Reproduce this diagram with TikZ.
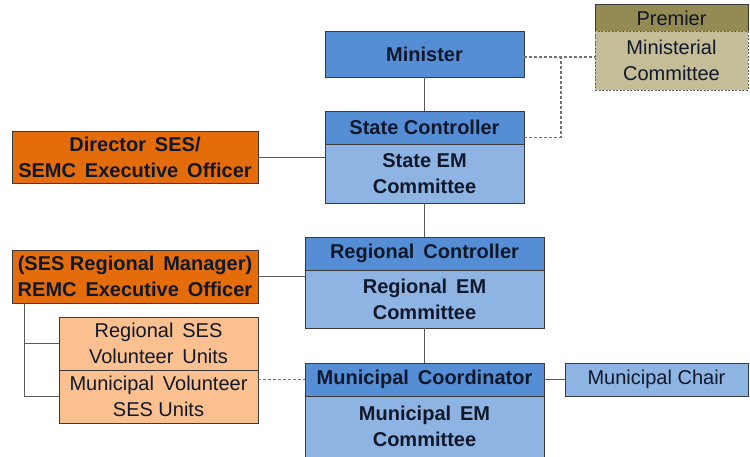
\documentclass[tikz,border=0pt]{standalone}
\usepackage{fontspec}
\setmainfont{Liberation Sans}
\usepackage{xcolor}
\definecolor{midblue}{HTML}{558ED5}
\definecolor{lightblue}{HTML}{8EB4E3}
\definecolor{darkorange}{HTML}{E46C0A}
\definecolor{lightorange}{HTML}{FAC090}
\definecolor{olive}{HTML}{948A54}
\definecolor{sand}{HTML}{C4BD97}
\definecolor{ink}{HTML}{10182A}
\definecolor{edge}{HTML}{3A3A3A}
\definecolor{wire}{HTML}{5A5A5A}

\begin{document}
\begin{tikzpicture}[x=1pt,y=-1pt,
    box/.style={draw=edge,line width=0.8pt,text=ink,inner sep=0pt,align=center,
                font=\fontsize{20}{26}\selectfont},
    boldbox/.style={box,font=\fontsize{20}{26}\selectfont\bfseries},
    head/.style={boldbox,fill=midblue},
    body/.style={boldbox,fill=lightblue},
    officer/.style={boldbox,fill=darkorange},
    unit/.style={box,fill=lightorange},
    link/.style={draw=wire,line width=0.9pt},
    dotlink/.style={draw=wire!85,line width=1.1pt,dash pattern=on 3pt off 2pt}]
        \useasboundingbox (0,0) rectangle (750,456);
        % central column
        \node[head,minimum width=199pt,minimum height=46pt] (min) at (424.5,54) {Minister};
        \node[head,minimum width=199pt,minimum height=33pt] (stctl) at (424.5,127.5) {State Controller};
        \node[body,minimum width=199pt,minimum height=59pt] (stem) at (424.5,173.5) {State EM\\Committee};
        \node[head,minimum width=239pt,minimum height=33pt] (rgctl) at (424.5,253.5) {Regional\, Controller};
        \node[body,minimum width=239pt,minimum height=58pt] (rgem) at (424.5,299) {Regional\, EM\\Committee};
        \node[head,minimum width=239pt,minimum height=33pt] (mcoord) at (424.5,379.5) {Municipal\, Coordinator};
        \node[body,minimum width=239pt,minimum height=61pt] (mem) at (424.5,426.5) {Municipal\, EM\\Committee};
        % premier
        \node[box,fill=olive,minimum width=153pt,minimum height=27pt] (prem) at (671.5,18) {Premier};
        \node[box,fill=sand,draw=edge!80,dash pattern=on 2pt off 1.5pt,
              minimum width=153pt,minimum height=59pt] (mincom) at (671.5,60.5) {Ministerial\\Committee};
        % officers
        \node[officer,minimum width=246pt,minimum height=52pt] (dir) at (135,157) {Director\, SES/\\SEMC\, Executive\, Officer};
        \node[officer,minimum width=246pt,minimum height=53pt] (rm) at (135,276.5) {(SES Regional\, Manager)\\REMC\, Executive\, Officer};
        % volunteer units
        \node[unit,minimum width=199pt,minimum height=53pt] (rsu) at (158.5,343.5) {Regional\, SES\\Volunteer\, Units};
        \node[unit,minimum width=199pt,minimum height=53pt] (mvu) at (158.5,396.5) {Municipal\, Volunteer\\SES Units};
        % chair
        \node[box,fill=lightblue,minimum width=183pt,minimum height=33pt] (mchair) at (656.5,379.5) {Municipal Chair};
        % lineas solidas
        \draw[link] (min) -- (stctl);
        \draw[link] (stem) -- (rgctl);
        \draw[link] (rgem) -- (mcoord);
        \draw[link] (dir.east) -- (dir.east -| stem.west);
        \draw[link] (rm.east) -- (rm.east -| rgem.west);
        \draw[link] (mcoord) -- (mchair);
        % corchete de unidades
        \coordinate (brk) at ([xshift=13pt]rm.south west);
        \draw[link] (brk) |- (mvu.west);
        \draw[link] (rsu.west) -- (rsu.west -| brk);
        % lineas punteadas
        \coordinate (mj) at ([yshift=-3pt]min.east);
        \coordinate (jn) at (561,0);
        \draw[dotlink] (mj) -- (mj -| mincom.west);
        \draw[dotlink] ([yshift=6pt]stem.north east) -| (jn |- mj);
        \draw[dotlink] (mvu.east |- mcoord.west) -- (mcoord.west);
\end{tikzpicture}
\end{document}
